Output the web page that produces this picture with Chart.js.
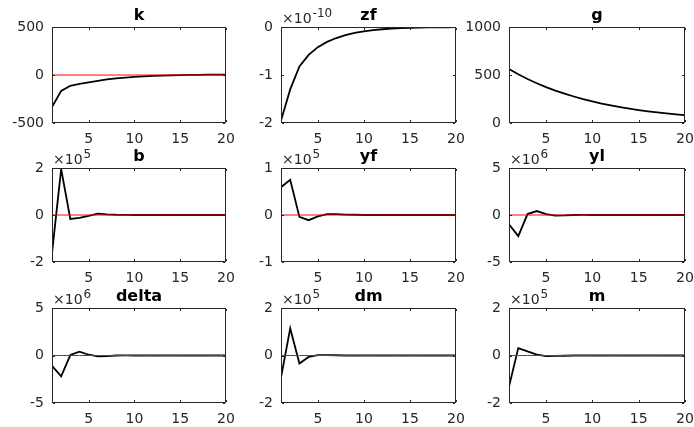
<!DOCTYPE html>
<html lang="en">
<head>
<meta charset="UTF-8">
<title>Impulse responses</title>
<script src="https://cdn.jsdelivr.net/npm/chart.js@4.4.0/dist/chart.umd.min.js"></script>
<style>
  body { margin: 0; background: #fff; }
  #wrap { position: relative; width: 694px; height: 427px; overflow: hidden; font-family: "DejaVu Sans", sans-serif; }
  .panel { position: absolute; }
  .ttl { position: absolute; text-align: center; font-weight: bold; font-size: 16px; line-height: 16px; color: #000; white-space: nowrap; }
  .expo { position: absolute; font-size: 14px; line-height: 14px; color: #262626; white-space: nowrap; }
  .expo span { position: relative; top: -6px; font-size: 12px; margin-left: 1px; }
  .frame { position: absolute; box-sizing: border-box; border: 1px solid #262626; pointer-events: none; }
  .tk { position: absolute; background: #262626; }
</style>
</head>
<body>
<div id="wrap"></div>
<script>
// horizon
const periods = [1,2,3,4,5,6,7,8,9,10,11,12,13,14,15,16,17,18,19,20];
const xTicks = [5, 10, 15, 20];

// values as shown on each axis (actual = value * 10^exp)
const k     = [-333,-165,-112,-93,-76,-62,-46,-35,-27,-20,-14,-10,-6,-3,-1,1,2,3,4,4];
const zf    = [-1.95,-1.30,-0.82,-0.58,-0.42,-0.31,-0.23,-0.17,-0.12,-0.09,-0.065,-0.047,-0.034,-0.025,-0.018,-0.013,-0.009,-0.007,-0.005,-0.003];
const g     = [562,507,458,414,374,338,305,276,249,225,203,184,166,150,135,122,110,100,90,81];
const b     = [-1.62,1.95,-0.17,-0.12,-0.04,0.06,0.03,0.01,0.005,0,0,0,0,0,0,0,0,0,0,0];
const yf    = [0.59,0.75,-0.04,-0.11,-0.03,0.02,0.02,0.01,0.005,0,0,0,0,0,0,0,0,0,0,0];
const yl    = [-1.0,-2.25,0.1,0.42,0.1,-0.07,-0.05,0,0.01,0,0,0,0,0,0,0,0,0,0,0];
const delta = [-1.1,-2.2,0.05,0.4,0.08,-0.1,-0.06,0,0.01,0,0,0,0,0,0,0,0,0,0,0];
const dm    = [-0.93,1.14,-0.34,-0.06,0.02,0.02,0.01,0,0,0,0,0,0,0,0,0,0,0,0,0];
const m     = [-1.31,0.31,0.17,0.04,-0.03,-0.02,-0.01,0,0,0,0,0,0,0,0,0,0,0,0,0];

const titles = ['k', 'zf', 'g', 'b', 'yf', 'yl', 'delta', 'dm', 'm'];
const series = [k, zf, g, b, yf, yl, delta, dm, m];
const exps   = [0, -10, 0, 5, 5, 6, 6, 5, 5];
const yTicks = [
  [-500, 0, 500], [-2, -1, 0], [0, 500, 1000],
  [-2, 0, 2], [-1, 0, 1], [-5, 0, 5],
  [-5, 0, 5], [-2, 0, 2], [-2, 0, 2]
];

// panel geometry: plot box and room around it
const colLeft = [52, 281, 509];
const colWidth = [174, 175, 176];
const colPadL = [50, 42, 44];
const colPadR = [13, 9, 9];
const rowTop = [27, 168, 308];
const rowHeight = [96, 94, 95];
const rowPadT = [27, 22, 23];
const rowPadB = [23, 23, 24];

const AXIS = '#262626';
const wrap = document.getElementById('wrap');

function addEl(cls, left, top, w, h) {
  const el = document.createElement('div');
  el.className = cls;
  el.style.left = left + 'px';
  el.style.top = top + 'px';
  el.style.width = w + 'px';
  el.style.height = h + 'px';
  wrap.appendChild(el);
  return el;
}

series.forEach((vals, i) => {
  const col = i % 3, row = Math.floor(i / 3);
  const L = colLeft[col], T = rowTop[row], W = colWidth[col], H = rowHeight[row];
  const padL = colPadL[col], padR = colPadR[col], padT = rowPadT[row], padB = rowPadB[row];
  const cx = L - padL, cy = T - padT;

  const div = document.createElement('div');
  div.className = 'panel';
  div.style.left = cx + 'px';
  div.style.top = cy + 'px';
  const cv = document.createElement('canvas');
  cv.width = W + padL + padR;
  cv.height = H + padT + padB;
  cv.style.width = cv.width + 'px';
  cv.style.height = cv.height + 'px';
  div.appendChild(cv);
  wrap.appendChild(div);

  const yt = yTicks[i];
  const tickFont = { family: '"DejaVu Sans", sans-serif', size: 14 };

  const chart = new Chart(cv, {
    type: 'line',
    data: {
      datasets: [
        {
          data: periods.map(p => ({ x: p, y: 0 })),
          borderColor: '#ff0000', borderWidth: 1, pointRadius: 0
        },
        {
          data: periods.map((p, j) => ({ x: p, y: vals[j] })),
          borderColor: '#000', borderWidth: 1.8, pointRadius: 0
        }
      ]
    },
    options: {
      responsive: false,
      animation: false,
      events: [],
      layout: { padding: { left: 0, top: padT, right: padR, bottom: 0 } },
      plugins: { legend: { display: false }, tooltip: { enabled: false } },
      scales: {
        x: {
          type: 'linear', min: 1, max: 20,
          grid: { display: false, drawTicks: false },
          border: { display: false },
          afterBuildTicks: s => { s.ticks = xTicks.map(v => ({ value: v })); },
          afterFit: s => { s.height = padB; s.paddingLeft = 0; s.paddingRight = 0; },
          ticks: { font: tickFont, color: AXIS, padding: 8, maxRotation: 0, autoSkip: false,
                   callback: v => String(v) }
        },
        y: {
          type: 'linear', min: yt[0], max: yt[yt.length - 1],
          grid: { display: false, drawTicks: false },
          border: { display: false },
          afterBuildTicks: s => { s.ticks = yt.map(v => ({ value: v })); },
          afterFit: s => { s.width = padL; s.paddingTop = 0; s.paddingBottom = 0; },
          ticks: { font: tickFont, color: AXIS, padding: 8, autoSkip: false,
                   callback: v => String(v) }
        }
      }
    }
  });

  // axes box and inward tick marks, placed from the chart's own area and scales
  const a = chart.chartArea;
  const xs = chart.scales.x, ys = chart.scales.y;
  const left = cx + a.left, top = cy + a.top;
  addEl('frame', left, top, a.right - a.left, a.bottom - a.top);
  xTicks.forEach(v => {
    const px = cx + Math.round(xs.getPixelForValue(v));
    addEl('tk', px, cy + a.bottom - 3, 1, 2);
    addEl('tk', px, top + 1, 1, 2);
  });
  yt.forEach(v => {
    const py = cy + Math.round(ys.getPixelForValue(v));
    addEl('tk', left + 1, py, 2, 1);
    addEl('tk', cx + a.right - 3, py, 2, 1);
  });

  const ttl = addEl('ttl', left, T - 20.5, a.right - a.left, 16);
  ttl.textContent = titles[i];

  if (exps[i]) {
    const ex = document.createElement('div');
    ex.className = 'expo';
    ex.style.left = (left + 1) + 'px';
    ex.style.top = (T - 16) + 'px';
    ex.innerHTML = '\u00d710<span>' + exps[i] + '</span>';
    wrap.appendChild(ex);
  }
});
</script>
</body>
</html>
